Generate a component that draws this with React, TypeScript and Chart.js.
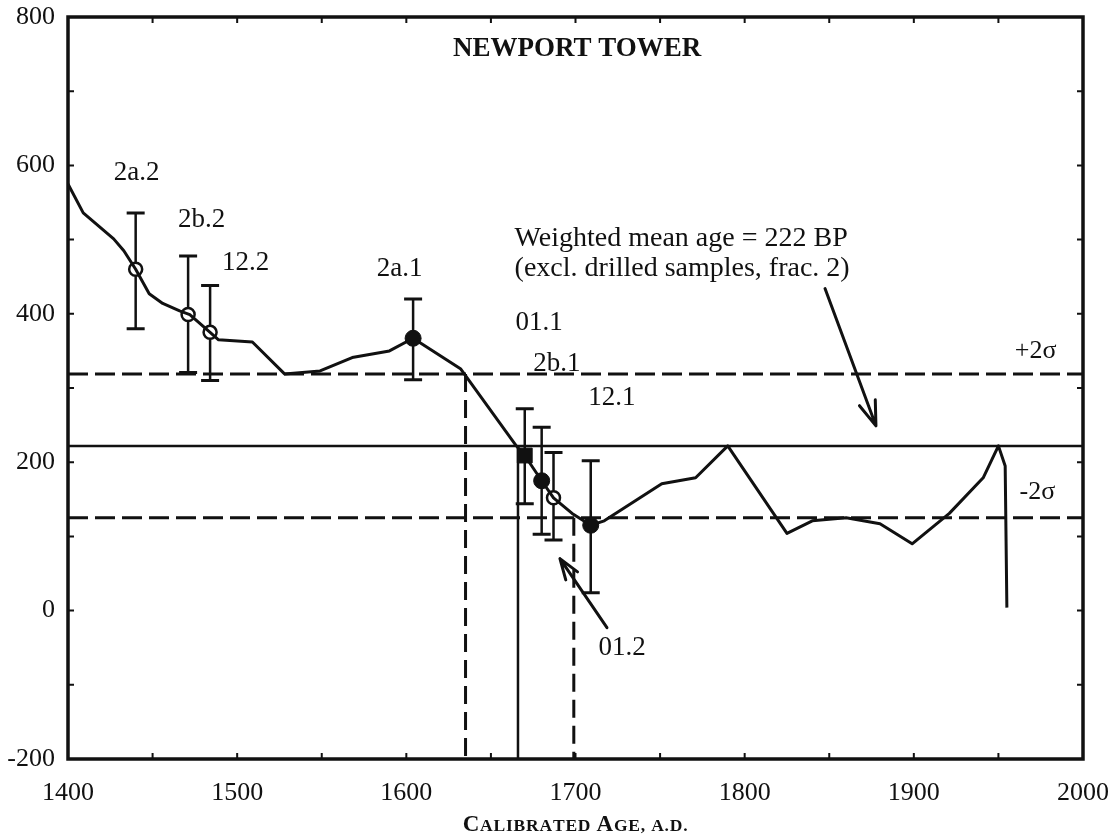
import React, { useEffect, useRef } from 'react';
import { Chart, registerables } from 'chart.js';

Chart.register(...registerables);

// Calibration curve (calendar year A.D. vs radiocarbon age BP)
const curveYears = [1400, 1409, 1427, 1433, 1440, 1448, 1456, 1466, 1472, 1484, 1489, 1509, 1528, 1549, 1568, 1590, 1604, 1632, 1665, 1670, 1680, 1687, 1698, 1709, 1717, 1751, 1771, 1790, 1825, 1840, 1860, 1880, 1899, 1921, 1941, 1950, 1954, 1955];
const curveAges = [575, 536, 501, 485, 460, 427, 414, 404, 399, 375, 365, 362, 319, 323, 341, 350, 367, 326, 222, 209, 175, 152, 131, 115, 121, 171, 179, 222, 104, 121, 125, 117, 90, 131, 179, 222, 195, 4];

// Samples
const sampleNames = ['2a.2', '2b.2', '12.2', '2a.1', '01.1', '2b.1', '12.1', '01.2'];
const sampleYears = [1440, 1471, 1484, 1604, 1670, 1680, 1687, 1709];
const sampleAges = [460, 399, 375, 367, 209, 175, 152, 115];
const sampleHigh = [536, 478, 438, 420, 272, 247, 213, 202];
const sampleLow = [380, 321, 310, 311, 144, 103, 95, 24];
const sampleMarker = ['open', 'open', 'open', 'filled', 'square', 'filled', 'open', 'filled'];

// Weighted mean and limits
const meanAge = 222;
const plus2Sigma = 319;
const minus2Sigma = 125;
const rangeStartYear = 1635;
const meanCrossYear = 1666;
const rangeEndYear = 1699;

const xMin = 1400;
const xMax = 2000;
const yMin = -200;
const yMax = 800;

// Text annotations (data coordinates)
const labelX = [1440.5, 1479, 1505, 1596, 1678.5, 1689, 1721.5, 1727.5];
const labelY = [590, 526, 469, 461, 388, 332, 286, -50];

const FONT = "'Liberation Serif', 'Times New Roman', serif";

const annotationPlugin = {
  id: 'annotations',
  beforeDatasetsDraw(chart: any) {
    const { ctx, scales } = chart;
    const xs = scales.x;
    const ys = scales.y;
    ctx.save();
    ctx.strokeStyle = '#111';
    ctx.lineCap = 'butt';
    for (let i = 0; i < sampleYears.length; i++) {
      const px = xs.getPixelForValue(sampleYears[i]);
      const pt = ys.getPixelForValue(sampleHigh[i]);
      const pb = ys.getPixelForValue(sampleLow[i]);
      const pm = ys.getPixelForValue(sampleAges[i]);
      ctx.lineWidth = 2.5;
      ctx.beginPath();
      if (sampleMarker[i] === 'open') {
        ctx.moveTo(px, pt);
        ctx.lineTo(px, pm - 7);
        ctx.moveTo(px, pm + 7);
        ctx.lineTo(px, pb);
      } else {
        ctx.moveTo(px, pt);
        ctx.lineTo(px, pb);
      }
      ctx.stroke();
      ctx.lineWidth = 3;
      ctx.beginPath();
      ctx.moveTo(px - 9, pt);
      ctx.lineTo(px + 9, pt);
      ctx.moveTo(px - 9, pb);
      ctx.lineTo(px + 9, pb);
      ctx.stroke();
    }
    ctx.restore();
  },
  afterDatasetsDraw(chart: any) {
    const { ctx, scales, chartArea } = chart;
    const xs = scales.x;
    const ys = scales.y;
    const X = (v: number) => xs.getPixelForValue(v);
    const Y = (v: number) => ys.getPixelForValue(v);
    ctx.save();
    ctx.fillStyle = '#111';
    ctx.strokeStyle = '#111';

    // frame
    ctx.lineWidth = 3.5;
    ctx.strokeRect(chartArea.left, chartArea.top, chartArea.right - chartArea.left, chartArea.bottom - chartArea.top);

    // inward tick marks on all four sides
    ctx.lineWidth = 2;
    ctx.beginPath();
    for (let v = xMin + 50; v < xMax; v += 50) {
      const p = X(v);
      ctx.moveTo(p, chartArea.bottom);
      ctx.lineTo(p, chartArea.bottom - 6);
      ctx.moveTo(p, chartArea.top);
      ctx.lineTo(p, chartArea.top + 6);
    }
    for (let v = yMin + 100; v < yMax; v += 100) {
      const p = Y(v);
      ctx.moveTo(chartArea.left, p);
      ctx.lineTo(chartArea.left + 6, p);
      ctx.moveTo(chartArea.right, p);
      ctx.lineTo(chartArea.right - 6, p);
    }
    ctx.stroke();

    // title
    ctx.textAlign = 'center';
    ctx.textBaseline = 'middle';
    ctx.font = `bold 27px ${FONT}`;
    ctx.fillText('NEWPORT TOWER', X(1701), Y(757));

    // sample labels
    ctx.font = `27px ${FONT}`;
    for (let i = 0; i < sampleNames.length; i++) {
      ctx.fillText(sampleNames[i], X(labelX[i]), Y(labelY[i]));
    }

    // mean age note
    ctx.textAlign = 'left';
    ctx.font = `28px ${FONT}`;
    ctx.fillText('Weighted mean age = 222 BP', X(1664), Y(501));
    ctx.fillText('(excl. drilled samples, frac. 2)', X(1664), Y(461));

    // sigma labels
    ctx.textAlign = 'center';
    ctx.font = `26px ${FONT}`;
    ctx.fillText('+2σ', X(1972), Y(350));
    ctx.fillText('-2σ', X(1973), Y(159));

    // arrows
    const arrow = (x1: number, y1: number, x2: number, y2: number, head: number) => {
      const a = Math.atan2(y2 - y1, x2 - x1);
      ctx.lineWidth = 3;
      ctx.lineCap = 'round';
      ctx.lineJoin = 'round';
      ctx.beginPath();
      ctx.moveTo(x1, y1);
      ctx.lineTo(x2, y2);
      ctx.moveTo(x2 - head * Math.cos(a - 0.33), y2 - head * Math.sin(a - 0.33));
      ctx.lineTo(x2, y2);
      ctx.lineTo(x2 - head * Math.cos(a + 0.33), y2 - head * Math.sin(a + 0.33));
      ctx.stroke();
    };
    arrow(X(1847.5), Y(434), X(1877.6), Y(249), 26);
    arrow(X(1718.6), Y(-23), X(1690.8), Y(70), 22);

    // x-axis title in small caps
    const title = 'Calibrated Age, a.d.';
    const big = 23;
    const small = 17.5;
    const segs: { t: string; s: number }[] = [];
    for (const ch of title) {
      const lower = ch !== ch.toUpperCase();
      const isPunct = ch === ',' || ch === '.' || ch === ' ';
      segs.push({ t: ch.toUpperCase(), s: lower || isPunct ? small : big });
    }
    const spacing = 0.8;
    let total = 0;
    for (const sg of segs) {
      ctx.font = `bold ${sg.s}px ${FONT}`;
      total += ctx.measureText(sg.t).width + spacing;
    }
    let cx = (chartArea.left + chartArea.right) / 2 - total / 2;
    ctx.textAlign = 'left';
    ctx.textBaseline = 'alphabetic';
    for (const sg of segs) {
      ctx.font = `bold ${sg.s}px ${FONT}`;
      ctx.fillText(sg.t, cx, 831);
      cx += ctx.measureText(sg.t).width + spacing;
    }
    ctx.restore();
  },
};

export default function App() {
  const ref = useRef<HTMLCanvasElement>(null);
  useEffect(() => {
    const canvas = ref.current;
    if (!canvas) return;
    const line = (pts: { x: number; y: number }[], dash: number[], width: number, order: number) => ({
      type: 'line',
      data: pts,
      borderColor: '#111',
      borderWidth: width,
      borderDash: dash,
      pointRadius: 0,
      tension: 0,
      order,
    });
    const chart = new Chart(canvas, {
      type: 'line',
      data: {
        datasets: [
          {
            type: 'line',
            data: sampleYears.map((x, i) => ({ x, y: sampleAges[i] })),
            showLine: false,
            pointStyle: sampleMarker.map((m) => (m === 'square' ? 'rect' : 'circle')),
            pointRadius: sampleMarker.map((m) => (m === 'square' ? 10.5 : m === 'open' ? 6.5 : 8)),
            pointBackgroundColor: sampleMarker.map((m) => (m === 'open' ? 'rgba(255,255,255,0)' : '#111')),
            pointBorderColor: '#111',
            pointBorderWidth: sampleMarker.map((m) => (m === 'open' ? 2.5 : 1)),
            order: 0,
          } as any,
          {
            type: 'line',
            data: curveYears.map((x, i) => ({ x, y: curveAges[i] })),
            borderColor: '#111',
            borderWidth: 3,
            borderJoinStyle: 'round',
            pointRadius: 0,
            tension: 0,
            order: 1,
          } as any,
          line([{ x: xMin, y: meanAge }, { x: xMax, y: meanAge }], [], 2.5, 2) as any,
          line([{ x: xMin, y: plus2Sigma }, { x: xMax, y: plus2Sigma }], [20, 7], 3, 2) as any,
          line([{ x: xMin, y: minus2Sigma }, { x: xMax, y: minus2Sigma }], [20, 7], 3, 2) as any,
          line([{ x: rangeStartYear, y: plus2Sigma }, { x: rangeStartYear, y: yMin }], [18, 8], 3, 2) as any,
          line([{ x: rangeEndYear, y: minus2Sigma }, { x: rangeEndYear, y: yMin }], [18, 8], 3, 2) as any,
          line([{ x: meanCrossYear, y: meanAge }, { x: meanCrossYear, y: yMin }], [], 2.5, 2) as any,
        ],
      },
      options: {
        responsive: false,
        animation: false,
        events: [],
        layout: { padding: { top: 17, right: 37, left: 0, bottom: 0 } },
        plugins: { legend: { display: false }, tooltip: { enabled: false }, title: { display: false } },
        scales: {
          x: {
            type: 'linear',
            min: xMin,
            max: xMax,
            grid: { display: false, drawTicks: false },
            border: { display: false },
            afterFit: (s: any) => {
              s.height = 78;
              s.paddingLeft = 0;
              s.paddingRight = 0;
            },
            ticks: {
              stepSize: 50,
              autoSkip: false,
              maxRotation: 0,
              padding: 19,
              color: '#111',
              font: { family: FONT, size: 26 },
              callback: (v: any) => (Number(v) % 100 === 0 ? String(v) : ''),
            },
          },
          y: {
            type: 'linear',
            min: yMin,
            max: yMax,
            grid: { display: false, drawTicks: false },
            border: { display: false },
            afterFit: (s: any) => {
              s.width = 68;
              s.paddingTop = 0;
              s.paddingBottom = 0;
            },
            ticks: {
              stepSize: 100,
              autoSkip: false,
              padding: 13,
              color: '#111',
              font: { family: FONT, size: 26 },
              callback: (v: any) => (Number(v) % 200 === 0 ? String(v) : ''),
            },
          },
        },
      } as any,
      plugins: [annotationPlugin],
    });
    return () => chart.destroy();
  }, []);
  return (
    <div style={{ position: 'fixed', left: 0, top: 0, width: 1120, height: 837, background: '#fff' }}>
      <canvas ref={ref} width={1120} height={837} style={{ width: 1120, height: 837, display: 'block' }} />
    </div>
  );
}
